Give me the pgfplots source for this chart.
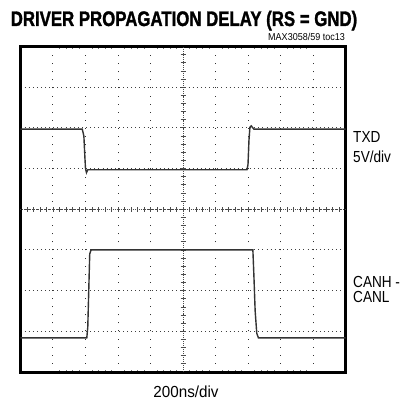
\documentclass[border=0pt]{standalone}
\usepackage{pgfplots}
\pgfplotsset{compat=1.18}
\usepackage{fontspec}
\setmainfont{Liberation Sans}
\newfontfamily\heavy{Liberation Sans Bold}[FakeBold=1.6]
\begin{document}
\begin{tikzpicture}[x=1pt,y=1pt]
\path[use as bounding box] (0,0) rectangle (401,402);
\begin{axis}[
  at={(20.5pt,30pt)}, anchor=south west,
  scale only axis, width=325pt, height=325.5pt,
  xmin=0, xmax=10, ymin=0, ymax=8,
  xtick={1,...,9}, ytick={1,...,7},
  xticklabels={}, yticklabels={},
  major tick length=0pt,
  minor x tick num=4, minor y tick num=4,
  minor tick length=2pt,
  every minor tick/.style={black!55, line width=0.7pt},
  xmajorgrids, ymajorgrids,
  x grid style={black!80, line width=1pt, dash pattern=on 1pt off 7.1pt, dash phase=0pt},
  y grid style={black!75, line width=1pt, dash pattern=on 1pt off 3.1pt},
  axis line style={line width=3pt, black},
  clip=false,
]
% center cross
\draw[black!70, line width=0.8pt, dash pattern=on 1pt off 1pt] (axis cs:5,0) -- (axis cs:5,8);
\draw[black!70, line width=0.8pt, dash pattern=on 1pt off 1pt] (axis cs:0,4) -- (axis cs:10,4);
\pgfplotsinvokeforeach{1,...,49}{
  \draw[black!70, line width=0.8pt] (axis cs:#1/5,4) ++(0,-2.5pt) -- ++(0,5pt);
}
\pgfplotsinvokeforeach{1,...,39}{
  \draw[black!70, line width=0.8pt] (axis cs:5,#1/5) ++(-2.5pt,0) -- ++(5pt,0);
}
% TXD
\addplot[black!80, line width=1.4pt] coordinates {
  (0,5.97) (1.90,5.97) (1.95,5.80) (1.98,5.30) (2.00,5.00) (2.03,4.90) (2.07,4.97)
  (6.97,4.97) (7.00,5.10) (7.03,5.70) (7.06,6.02) (7.10,6.05) (7.18,5.97) (10,5.97)
};
% CANH - CANL
\addplot[black!80, line width=1.4pt] coordinates {
  (0,0.84) (2.04,0.84) (2.07,1.10) (2.10,2.00) (2.13,2.90) (2.17,3.00)
  (7.15,3.00) (7.18,2.40) (7.22,1.50) (7.27,0.95) (7.32,0.84) (10,0.84)
};
\end{axis}
\node[anchor=base] at (184,376) {\scalebox{0.8}[1]{\fontsize{21}{21}\selectfont\heavy DRIVER PROPAGATION DELAY (RS = GND)}};
\node[anchor=base east, inner sep=0pt] at (345,361) {\scalebox{0.9}[1]{\fontsize{10}{10}\selectfont MAX3058/59 toc13}};
\node[anchor=base west, inner sep=0pt] at (353,259) {\scalebox{0.85}[1]{\fontsize{16}{16}\selectfont TXD}};
\node[anchor=base west, inner sep=0pt] at (353,239) {\scalebox{0.85}[1]{\fontsize{16}{16}\selectfont 5V/div}};
\node[anchor=base west, inner sep=0pt] at (353,114) {\scalebox{0.85}[1]{\fontsize{16}{16}\selectfont CANH -}};
\node[anchor=base west, inner sep=0pt] at (353,99) {\scalebox{0.85}[1]{\fontsize{16}{16}\selectfont CANL}};
\node[anchor=base, inner sep=0pt] at (186,5) {\scalebox{0.95}[1]{\fontsize{16}{16}\selectfont 200ns/div}};
\end{tikzpicture}
\end{document}
